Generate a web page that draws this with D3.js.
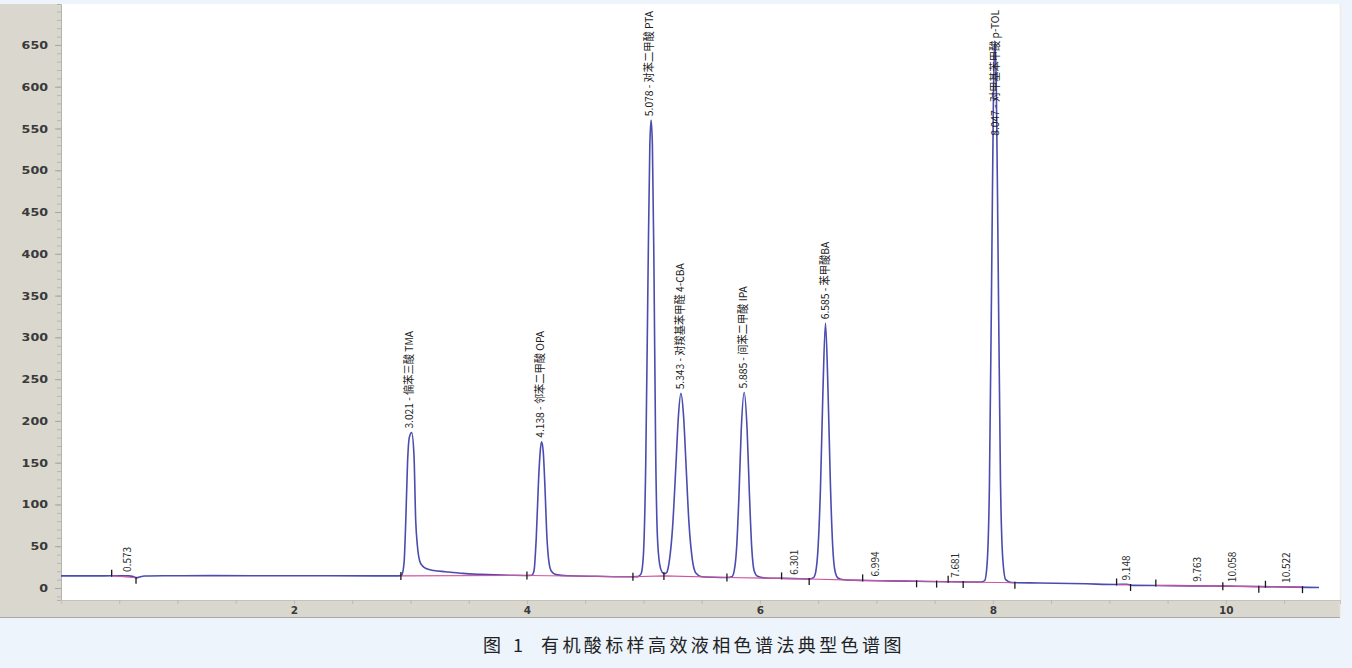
<!DOCTYPE html>
<html><head><meta charset="utf-8">
<script src="https://cdn.jsdelivr.net/npm/d3@7"></script>
<style>
html,body{margin:0;padding:0;background:#edf4fc;}
svg{display:block}
</style></head><body>
<svg id="c" width="1352" height="668"></svg>
<script>
// ---------- data ----------
const xTickValues = [0.5,1,1.5,2,2.5,3,3.5,4,4.5,5,5.5,6,6.5,7,7.5,8,8.5,9,9.5,10,10.5];
const xTickLabels = [2,4,6,8,10];
const yTickValues = [0,50,100,150,200,250,300,350,400,450,500,550,600,650];
const yMinorTicks = [-10,0,10,20,30,40,50,60,70,80,90,100,110,120,130,140,150,160,170,180,190,200,210,220,230,240,250,260,270,280,290,300,310,320,330,340,350,360,370,380,390,400,410,420,430,440,450,460,470,480,490,500,510,520,530,540,550,560,570,580,590,600,610,620,630,640,650,660,670,680,690];

// detector signal (time in min, response)
const traceTime = [0.00,0.30,0.44,0.58,0.62,0.645,0.67,0.72,0.90,1.30,1.80,2.30,2.70,2.90,
 2.925,2.945,2.96,2.975,2.99,3.01,3.03,3.045,3.06,3.08,3.10,3.14,3.20,3.30,3.45,3.60,3.88,4.00,
 4.04,4.06,4.08,4.10,4.115,4.126,4.14,4.155,4.17,4.19,4.21,4.25,4.35,4.60,4.90,
 4.95,4.98,5.00,5.02,5.04,5.055,5.066,5.077,5.09,5.105,5.12,5.14,5.16,5.18,
 5.20,5.22,5.25,5.28,5.30,5.322,5.345,5.365,5.39,5.42,5.45,5.50,5.60,5.72,
 5.76,5.78,5.80,5.82,5.84,5.865,5.89,5.91,5.93,5.95,5.98,6.05,6.20,6.30,6.42,
 6.46,6.48,6.50,6.52,6.54,6.563,6.585,6.605,6.625,6.645,6.67,6.72,6.90,7.10,7.35,7.60,7.80,7.90,
 7.93,7.95,7.97,7.99,8.005,8.017,8.03,8.045,8.065,8.085,8.11,8.16,8.40,8.80,9.05,9.15,9.20,9.40,9.70,10.00,10.30,10.60,10.80];
const traceValue = [14.5,14.5,14.6,14.5,13.8,12.0,13.0,14.3,14.6,14.8,14.7,14.6,14.5,14.5,
 15.5,30,81,150,180,186,160,81,50,32,27,23,21,19.5,17.5,16.4,15.2,15.0,
 15.2,20,60,130,165,175,163,120,65,30,20,16,14.6,14.0,13.5,
 13.6,17,40,150,380,530,560,530,390,165,62,28,19,17,
 18.5,30,72,150,205,233,205,150,80,34,18,13.5,12.8,12.5,
 13.5,21,48,110,190,234,190,112,48,21,14,12,11.5,11.2,10.8,
 12.5,20,50,120,230,317,235,125,50,20,12,9.8,9.0,8.5,8.0,7.5,7.2,7.2,
 9,28,120,380,590,655,595,395,130,35,10,6.5,6.0,5.0,4.2,4.5,3.2,3.0,2.6,2.2,1.6,1.0,0.6];

// named peaks
const peakTimes = [3.021,4.138,5.078,5.343,5.885,6.585,8.047];
const peakNames = ["偏苯三酸 TMA","邻苯二甲酸 OPA","对苯二甲酸 PTA","对羧基苯甲醛 4-CBA","间苯二甲酸 IPA","苯甲酸BA","对甲基苯甲酸 p-TOL"];
const peakApex = [186,175,560,233,234,317,655];

// minor (unnamed) peaks
const minorTimes = [0.573,6.301,6.994,7.681,9.148,9.763,10.058,10.522];
const minorBase = [14.5,11.2,9.0,7.4,4.2,2.6,2.2,1.3];

// integration markers
const markerTimes = [0.435,0.644,2.918,4.00,4.91,5.176,5.717,6.186,6.423,6.882,7.345,7.517,7.616,7.745,8.189,9.062,9.182,9.399,9.974,10.283,10.34,10.658];
const markerValues = [14.6,12.3,14.5,15.0,13.5,14.5,12.5,11.5,10.8,9.1,8.0,7.7,7.5,7.2,6.2,4.2,3.6,3.0,2.2,1.6,1.5,1.0];
const markerDirs = [1,-1,0,0,0,0,0,1,-1,1,-1,-1,1,-1,-1,1,-1,1,0,-1,1,-1];

// integration baselines (time/value pairs per segment)
const integSegTimes = [[0.435,0.644],[2.918,4.00,4.91,5.176,5.717,6.186,6.423,6.882,7.345,7.517,7.616,7.745,8.189],[9.062,9.182],[9.399,9.974,10.283,10.34,10.658]];
const integSegValues = [[14.6,12.3],[14.5,15.0,13.5,14.5,12.5,11.5,10.8,9.1,8.0,7.7,7.5,7.2,6.2],[4.2,3.6],[3.0,2.2,1.6,1.5,1.0]];

const captionNum = "图";
const captionIdx = "1";
const captionText = "有机酸标样高效液相色谱法典型色谱图";

// ---------- drawing ----------
const svg = d3.select("#c");
const L = 61, R = 1340, T = 4, B = 600;
const x = d3.scaleLinear().domain([0, 10.98]).range([L, R]);
const y = d3.scaleLinear().domain([-14.36, 699]).range([B, T]);

const panel = "#dad7cf";
svg.append("rect").attr("x",0).attr("y",T).attr("width",L).attr("height",617-T).attr("fill",panel);
svg.append("rect").attr("x",L).attr("y",B).attr("width",R-L).attr("height",17).attr("fill",panel);
svg.append("line").attr("x1",0).attr("x2",R).attr("y1",617.5).attr("y2",617.5).attr("stroke","#a8a8a8");
svg.append("rect").attr("x",L).attr("y",T).attr("width",R-L).attr("height",B-T).attr("fill","#ffffff");
svg.append("line").attr("x1",R+0.5).attr("x2",R+0.5).attr("y1",T).attr("y2",617).attr("stroke","#f3e9e7").attr("stroke-width",1.5);

// y axis minor
const yMinor = svg.append("g").attr("transform",`translate(${L},0)`)
  .call(d3.axisLeft(y).tickValues(yMinorTicks).tickSize(4).tickFormat(""));
yMinor.select(".domain").attr("stroke","#b5b3ad");
yMinor.selectAll(".tick line").attr("stroke","#b9b7b1");
// y axis major
const yAx = svg.append("g").attr("transform",`translate(${L},0)`)
  .call(d3.axisLeft(y).tickValues(yTickValues).tickSize(6).tickPadding(7));
yAx.select(".domain").remove();
yAx.selectAll(".tick line").attr("stroke","#a9a7a1");
yAx.selectAll(".tick text").attr("font-family","DejaVu Sans, sans-serif").attr("font-size",11)
  .attr("font-weight","bold").attr("fill","#3a3a3a")
  .each(function(){ const n=this.getComputedTextLength(); d3.select(this).attr("textLength",n*1.15).attr("lengthAdjust","spacingAndGlyphs"); });

// x axis
const xAx = svg.append("g").attr("transform",`translate(0,${B})`)
  .call(d3.axisBottom(x).tickValues(xTickValues).tickSize(4).tickPadding(3)
    .tickFormat(d => xTickLabels.includes(d) ? String(d) : ""));
xAx.select(".domain").attr("stroke","#c4c2bb");
xAx.selectAll(".tick line").attr("stroke","#bcbab3");
xAx.selectAll(".tick text").attr("font-family","DejaVu Sans, sans-serif").attr("font-size",10.5)
  .attr("font-weight","bold").attr("fill","#3a3a3a");

// trace
const pts = traceTime.map((t,i)=>[t, traceValue[i]]);
const line = d3.line().x(d=>x(d[0])).y(d=>y(d[1])).curve(d3.curveMonotoneX);
svg.append("path").attr("d",line(pts)).attr("fill","none").attr("stroke","#4a4cae").attr("stroke-width",1.6);

// integration baselines
const segLine = d3.line().x(d=>x(d[0])).y(d=>y(d[1]));
integSegTimes.forEach((ts,i)=>{
  svg.append("path").attr("d",segLine(ts.map((t,j)=>[t,integSegValues[i][j]])))
    .attr("fill","none").attr("stroke","#d2529d").attr("stroke-width",1.1);
});

// markers
markerTimes.forEach((t,i)=>{
  const yy = y(markerValues[i]), d = markerDirs[i];
  const y1 = d===1 ? yy-6 : d===-1 ? yy-1 : yy-4;
  const y2 = d===1 ? yy+1 : d===-1 ? yy+6 : yy+4;
  svg.append("line").attr("x1",x(t)).attr("x2",x(t)).attr("y1",y1).attr("y2",y2)
    .attr("stroke","#1a1a1a").attr("stroke-width",1.3);
});

// named peak labels
const labFont = "'Liberation Sans Narrow','Arial Narrow','Noto Sans CJK SC',sans-serif";
peakTimes.forEach((t,i)=>{
  const txt = svg.append("text").text(`${t.toFixed(3)} - ${peakNames[i]}`)
    .attr("font-family",labFont).attr("font-size",11).attr("fill","#1e1e1e");
  const n = txt.node().getComputedTextLength();
  const len = n*0.93;
  txt.attr("textLength",len).attr("lengthAdjust","spacingAndGlyphs");
  const ys = Math.max(y(peakApex[i]) - 4, T + 6 + len);
  txt.attr("transform",`translate(${x(t)+0.5},${ys}) rotate(-90)`);
});

// minor peak labels
minorTimes.forEach((t,i)=>{
  svg.append("text").text(t.toFixed(3))
    .attr("font-family",labFont).attr("font-size",10).attr("fill","#2a2a2a")
    .attr("transform",`translate(${x(t)+3},${y(minorBase[i])-4}) rotate(-90)`);
});

// caption
const capFont = "'Noto Sans CJK SC',sans-serif";
svg.append("text").attr("x",483).attr("y",652).text(captionNum).attr("font-family",capFont).attr("font-size",18).attr("fill","#222");
svg.append("text").attr("x",513).attr("y",652).text(captionIdx).attr("font-family",capFont).attr("font-size",18).attr("fill","#222");
svg.append("text").attr("x",541).attr("y",652).text(captionText).attr("font-family",capFont).attr("font-size",18).attr("letter-spacing",3.4).attr("fill","#222");
</script>
</body></html>
